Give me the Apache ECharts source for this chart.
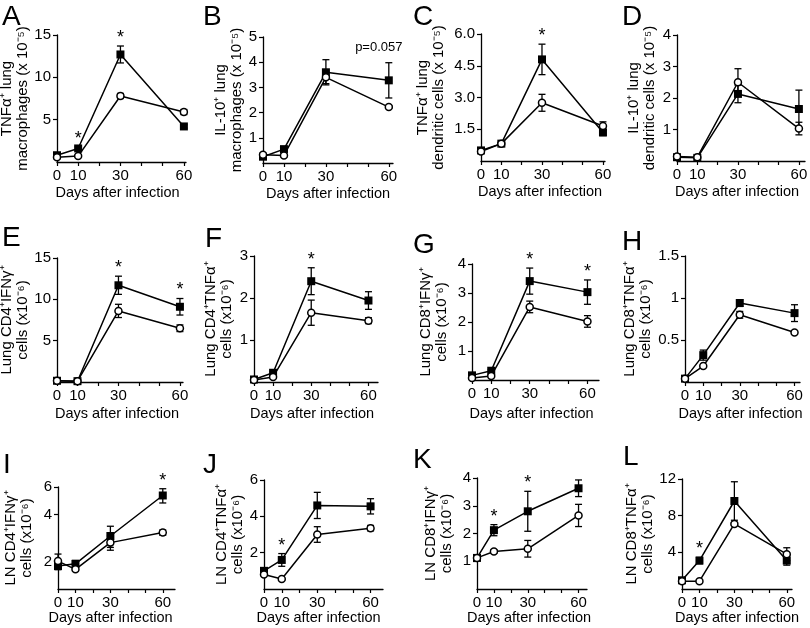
<!DOCTYPE html>
<html>
<head>
<meta charset="utf-8" />
</head>
<body style="margin: 0; background: #fff">
<div id="main" style="width: 810px; height: 628px"></div>
<script src="https://cdn.jsdelivr.net/npm/echarts@6/dist/echarts.min.js"></script>
<script>
const days = [0, 10, 30, 60];
const xLabels = [0, 10, 30, 60];
const xTicks = [0, 10, 20, 30, 40, 50, 60];

// A - TNFa+ lung macrophages
const aFilled = [0.8, 1.6, 12.7, 4.2];
const aFilledErr = [0.15, 0.2, 1.0, 0.2];
const aOpen = [0.55, 0.7, 7.8, 5.9];
const aOpenErr = [0.1, 0.1, 0.3, 0.3];
const aMarks = [[10, '*'], [30, '*']];
const aTicks = [5, 10, 15];

// B - IL-10+ lung macrophages
const bFilled = [0.25, 0.55, 3.6, 3.28];
const bFilledErr = [0.05, 0.08, 0.5, 0.7];
const bOpen = [0.33, 0.3, 3.4, 2.22];
const bOpenErr = [0.05, 0.05, 0.25, 0.05];
const bMarks = [[60, 'p=0.057']];
const bTicks = [1, 2, 3, 4, 5];

// C - TNFa+ lung dendritic cells
const cFilled = [0.5, 0.82, 4.8, 1.35];
const cFilledErr = [0.05, 0.05, 0.72, 0.15];
const cOpen = [0.45, 0.82, 2.75, 1.65];
const cOpenErr = [0.05, 0.05, 0.4, 0.2];
const cMarks = [[30, '*']];
const cTicks = [1.5, 3, 4.5, 6];

// D - IL-10+ lung dendritic cells
const dFilled = [0.12, 0.1, 2.13, 1.65];
const dFilledErr = [0.02, 0.02, 0.28, 0.6];
const dOpen = [0.14, 0.12, 2.5, 1.03];
const dOpenErr = [0.02, 0.02, 0.43, 0.2];
const dMarks = [];
const dTicks = [1, 2, 3, 4];

// E - Lung CD4+IFNg+
const eFilled = [0.15, 0.1, 11.7, 9.1];
const eFilledErr = [0.1, 0.1, 1.1, 1.0];
const eOpen = [0.15, 0.1, 8.6, 6.5];
const eOpenErr = [0.1, 0.1, 0.8, 0.4];
const eMarks = [[30, '*'], [60, '*']];
const eTicks = [5, 10, 15];

// F - Lung CD4+TNFa+
const fFilled = [0.06, 0.22, 2.4, 1.94];
const fFilledErr = [0.02, 0.03, 0.32, 0.21];
const fOpen = [0.05, 0.12, 1.65, 1.46];
const fOpenErr = [0.02, 0.02, 0.3, 0.07];
const fMarks = [[30, '*']];
const fTicks = [1, 2, 3];

// G - Lung CD8+IFNg+
const gFilled = [0.16, 0.32, 3.41, 3.03];
const gFilledErr = [0.03, 0.04, 0.45, 0.42];
const gOpen = [0.07, 0.14, 2.52, 2.02];
const gOpenErr = [0.02, 0.02, 0.2, 0.2];
const gMarks = [[30, '*'], [60, '*']];
const gTicks = [1, 2, 3, 4];

// H - Lung CD8+TNFa+
const hFilled = [0.04, 0.32, 0.94, 0.82];
const hFilledErr = [0.01, 0.06, 0.04, 0.1];
const hOpen = [0.04, 0.19, 0.8, 0.59];
const hOpenErr = [0.01, 0.01, 0.04, 0.02];
const hMarks = [];
const hTicks = [0.5, 1, 1.5];

// I - LN CD4+IFNg+ (log axis)
const iFilled = [1.89, 1.95, 2.93, 5.3];
const iFilledErr = [0.1, 0.1, 0.45, 0.55];
const iOpen = [2.03, 1.8, 2.66, 3.08];
const iOpenErr = [0.22, 0.05, 0.28, 0.12];
const iMarks = [[60, '*']];
const iTicks = [2, 4, 6];

// J - LN CD4+TNFa+
const jFilled = [1.0, 1.6, 4.6, 4.55];
const jFilledErr = [0.1, 0.35, 0.72, 0.42];
const jOpen = [0.8, 0.55, 3.0, 3.35];
const jOpenErr = [0.05, 0.04, 0.43, 0.15];
const jMarks = [[10, '*']];
const jTicks = [2, 4, 6];

// K - LN CD8+IFNg+
const kFilled = [1.12, 2.12, 2.8, 3.63];
const kFilledErr = [0.05, 0.2, 0.72, 0.3];
const kOpen = [1.12, 1.35, 1.45, 2.65];
const kOpenErr = [0.04, 0.06, 0.3, 0.4];
const kMarks = [[10, '*'], [30, '*']];
const kTicks = [1, 2, 3, 4];

// L - LN CD8+TNFa+
const lFilled = [0.95, 3.1, 9.6, 3.1];
const lFilledErr = [0.1, 0.35, 2.1, 0.5];
const lOpen = [0.85, 0.85, 7.1, 3.8];
const lOpenErr = [0.05, 0.05, 0.1, 0.7];
const lMarks = [[10, '*']];
const lTicks = [4, 8, 12];

const FONT = 'Liberation Sans, Arial, sans-serif';

// layout of each panel: grid [left, top, width, height], x max, y-name gap, letter position,
// x-name gap and a small left shift of the x-name
const panels = [
  { letter: 'A', f: aFilled, fe: aFilledErr, o: aOpen, oe: aOpenErr, marks: aMarks, ticks: aTicks, yMax: 15,
    name: 'TNFα⁺ lung\nmacrophages (x 10⁻⁵)', grid: [57, 35, 129, 127], xMax: 61, gap: 22, pos: [2, 3], xGap: 23, shift: 4 },
  { letter: 'B', f: bFilled, fe: bFilledErr, o: bOpen, oe: bOpenErr, marks: bMarks, ticks: bTicks, yMax: 5,
    name: 'IL-10⁺ lung\nmacrophages (x 10⁻⁵)', grid: [263, 37, 130, 126], xMax: 62, gap: 16, pos: [203, 3], xGap: 23, shift: 0 },
  { letter: 'C', f: cFilled, fe: cFilledErr, o: cOpen, oe: cOpenErr, marks: cMarks, ticks: cTicks, yMax: 6, fixed: 1,
    name: 'TNFα⁺ lung\ndendritic cells (x 10⁻⁵)', grid: [481, 34, 124, 127], xMax: 61, gap: 34, pos: [413, 3], xGap: 23, shift: 3 },
  { letter: 'D', f: dFilled, fe: dFilledErr, o: dOpen, oe: dOpenErr, marks: dMarks, ticks: dTicks, yMax: 4,
    name: 'IL-10⁺ lung\ndendritic cells (x 10⁻⁵)', grid: [677, 35, 128, 126], xMax: 63, gap: 19, pos: [622, 3], xGap: 23, shift: 4 },
  { letter: 'E', f: eFilled, fe: eFilledErr, o: eOpen, oe: eOpenErr, marks: eMarks, ticks: eTicks, yMax: 15,
    name: 'Lung CD4⁺IFNγ⁺\ncells (x10⁻⁶)', grid: [57, 258, 126, 124], xMax: 61.5, gap: 24, pos: [2, 224], xGap: 24, shift: 3 },
  { letter: 'F', f: fFilled, fe: fFilledErr, o: fOpen, oe: fOpenErr, marks: fMarks, ticks: fTicks, yMax: 3,
    name: 'Lung CD4⁺TNFα⁺\ncells (x10⁻⁶)', grid: [254, 256, 124, 126], xMax: 65, gap: 19, pos: [205, 225], xGap: 24, shift: 4 },
  { letter: 'G', f: gFilled, fe: gFilledErr, o: gOpen, oe: gOpenErr, marks: gMarks, ticks: gTicks, yMax: 4,
    name: 'Lung CD8⁺IFNγ⁺\ncells (x10⁻⁶)', grid: [472, 264, 127, 116], xMax: 66, gap: 22, pos: [413, 231], xGap: 26, shift: 4 },
  { letter: 'H', f: hFilled, fe: hFilledErr, o: hOpen, oe: hOpenErr, marks: hMarks, ticks: hTicks, yMax: 1.5,
    name: 'Lung CD8⁺TNFα⁺\ncells (x10⁻⁶)', grid: [685, 256, 115, 126], xMax: 63, gap: 30, pos: [622, 228], xGap: 24, shift: 2 },
  { letter: 'I', f: iFilled, fe: iFilledErr, o: iOpen, oe: iOpenErr, marks: iMarks, ticks: iTicks, yMax: 6, yMin: 1.35, log: true,
    name: 'LN CD4⁺IFNγ⁺\ncells (x10⁻⁶)', grid: [58, 487, 117, 102], xMax: 67, gap: 23, pos: [3, 451], xGap: 21, shift: 6 },
  { letter: 'J', f: jFilled, fe: jFilledErr, o: jOpen, oe: jOpenErr, marks: jMarks, ticks: jTicks, yMax: 6,
    name: 'LN CD4⁺TNFα⁺\ncells (x10⁻⁶)', grid: [264, 480, 119, 109], xMax: 67, gap: 11, pos: [203, 451], xGap: 21, shift: 5 },
  { letter: 'K', f: kFilled, fe: kFilledErr, o: kOpen, oe: kOpenErr, marks: kMarks, ticks: kTicks, yMax: 4,
    name: 'LN CD8⁺IFNγ⁺\ncells (x10⁻⁶)', grid: [477, 478, 110, 111], xMax: 65, gap: 22, pos: [413, 446], xGap: 21, shift: 3 },
  { letter: 'L', f: lFilled, fe: lFilledErr, o: lOpen, oe: lOpenErr, marks: lMarks, ticks: lTicks, yMax: 12,
    name: 'LN CD8⁺TNFα⁺\ncells (x10⁻⁶)', grid: [682, 479, 110, 110], xMax: 63, gap: 22, pos: [623, 443], xGap: 21, shift: 0 }
];

function errorBar(params, api) {
  const x = api.value(0);
  const lo = api.coord([x, api.value(1)]);
  const hi = api.coord([x, api.value(2)]);
  const w = 3.5;
  const style = { stroke: '#000', lineWidth: 1.3 };
  return {
    type: 'group',
    children: [
      { type: 'line', shape: { x1: lo[0], y1: lo[1], x2: hi[0], y2: hi[1] }, style: style },
      { type: 'line', shape: { x1: lo[0] - w, y1: lo[1], x2: lo[0] + w, y2: lo[1] }, style: style },
      { type: 'line', shape: { x1: hi[0] - w, y1: hi[1], x2: hi[0] + w, y2: hi[1] }, style: style }
    ]
  };
}

const grid = [], xAxis = [], yAxis = [], series = [], graphic = [];

panels.forEach(function (p, k) {
  grid.push({ left: p.grid[0], top: p.grid[1], width: p.grid[2], height: p.grid[3],
    containLabel: false, outerBoundsMode: 'none' });

  xAxis.push({
    gridIndex: k, type: 'value', min: 0, max: p.xMax,
    name: 'Days after infection', nameLocation: 'middle', nameGap: p.xGap,
    nameTextStyle: { fontSize: 14.5, color: '#000', fontFamily: FONT, padding: [0, p.shift * 2, 0, 0] },
    axisLine: { onZero: false, lineStyle: { color: '#000', width: 1.3 } },
    axisTick: { customValues: xTicks, length: 4, lineStyle: { color: '#000', width: 1.2 } },
    axisLabel: { customValues: xLabels, fontSize: 15, color: '#000', margin: 6, fontFamily: FONT },
    splitLine: { show: false }
  });

  yAxis.push({
    gridIndex: k, type: p.log ? 'log' : 'value', min: p.yMin || 0, max: p.yMax,
    name: p.name, nameLocation: 'middle', nameRotate: 90, nameGap: p.gap,
    nameTextStyle: { fontSize: 15, lineHeight: 16, color: '#000', fontFamily: FONT },
    axisLine: { onZero: false, lineStyle: { color: '#000', width: 1.3 } },
    axisTick: { customValues: p.ticks, length: 4, lineStyle: { color: '#000', width: 1.2 } },
    axisLabel: {
      customValues: p.ticks, fontSize: 15, color: '#000', margin: 6, fontFamily: FONT,
      formatter: function (v) { return p.fixed ? v.toFixed(p.fixed) : String(v); }
    },
    splitLine: { show: false }
  });

  const errData = function (vals, errs) {
    return days.map(function (d, i) { return [d, vals[i] - errs[i], vals[i] + errs[i]]; });
  };

  series.push({
    type: 'custom', xAxisIndex: k, yAxisIndex: k, renderItem: errorBar, z: 2,
    encode: { x: 0, y: [1, 2] }, data: errData(p.f, p.fe), silent: true
  });
  series.push({
    type: 'custom', xAxisIndex: k, yAxisIndex: k, renderItem: errorBar, z: 2,
    encode: { x: 0, y: [1, 2] }, data: errData(p.o, p.oe), silent: true
  });
  series.push({
    type: 'line', xAxisIndex: k, yAxisIndex: k, z: 3,
    data: days.map(function (d, i) { return [d, p.f[i]]; }),
    symbol: 'rect', symbolSize: 8, showAllSymbol: true,
    itemStyle: { color: '#000' },
    lineStyle: { color: '#000', width: 1.5 }
  });
  series.push({
    type: 'line', xAxisIndex: k, yAxisIndex: k, z: 4,
    data: days.map(function (d, i) { return [d, p.o[i]]; }),
    symbol: 'circle', symbolSize: 7, showAllSymbol: true,
    itemStyle: { color: '#fff', borderColor: '#000', borderWidth: 1.5 },
    lineStyle: { color: '#000', width: 1.5 }
  });

  // significance marks, placed above the highest error bar at that day
  series.push({
    type: 'custom', xAxisIndex: k, yAxisIndex: k, z: 5, silent: true,
    data: p.marks.map(function (m) {
      const i = days.indexOf(m[0]);
      return [m[0], Math.max(p.f[i] + p.fe[i], p.o[i] + p.oe[i])];
    }),
    encode: { x: 0, y: 1 },
    renderItem: function (params, api) {
      const m = p.marks[params.dataIndex];
      const c = api.coord([api.value(0), api.value(1)]);
      const star = m[1] === '*';
      return {
        type: 'text',
        x: c[0] + (star ? 0 : -10),
        y: c[1] - (star ? 8 : 15),
        style: {
          text: m[1], fill: '#000',
          font: (star ? '18px ' : '13px ') + FONT,
          align: 'center', verticalAlign: 'middle'
        }
      };
    }
  });

  graphic.push({
    type: 'text', left: p.pos[0], top: p.pos[1],
    style: { text: p.letter, fill: '#000', font: '28px ' + FONT }
  });
});

const chart = echarts.init(document.getElementById('main'));
chart.setOption({
  animation: false,
  backgroundColor: '#fff',
  textStyle: { fontFamily: FONT },
  grid: grid,
  xAxis: xAxis,
  yAxis: yAxis,
  series: series,
  graphic: graphic
});
</script>
</body>
</html>
